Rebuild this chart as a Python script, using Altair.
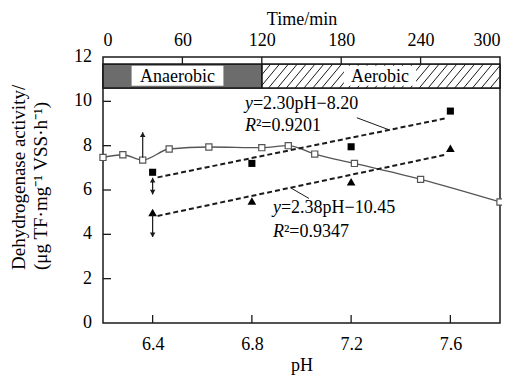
import altair as alt
import pandas as pd
import numpy as np

# ---- data ----
time_min = [0, 15, 30, 50, 80, 120, 140, 160, 190, 240, 300]
time_act = [7.47, 7.59, 7.35, 7.85, 7.94, 7.91, 8.0, 7.62, 7.2, 6.48, 5.46]

ph_vals = [6.4, 6.8, 7.2, 7.6]
sq_act = [6.8, 7.2, 7.95, 9.56]
tri_act = [4.99, 5.5, 6.37, 7.88]

fit_ph = [6.42, 7.58]
fit_sq = [6.57, 9.23]
fit_tri = [4.83, 7.59]

phase_names = ["Anaerobic", "Aerobic"]
phase_start = [0, 120]
phase_end = [120, 300]
phase_fill = ["#6c6c6c", "white"]
label_t1 = [21.6, 182]
label_t2 = [91, 236.6]
label_tc = [56.3, 209.3]
band_low, band_high = 10.6, 11.68

time_ticks = [0, 60, 120, 180, 240, 300]
ph_ticks = [6.4, 6.8, 7.2, 7.6]
y_ticks = [0, 2, 4, 6, 8, 10, 12]

ann_ph = [6.772, 6.772, 6.885, 6.885]
ann_v = [9.88, 8.9, 5.19, 4.10]
ann_italic = ["y", "R", "y", "R"]
ann_rest = ["=2.30pH\u22128.20", "\u00b2=0.9201", "=2.38pH\u221210.45", "\u00b2=0.9347"]
ann_kind = ["y", "R", "y", "R"]

lead_ph1 = [7.223, 6.956]
lead_v1 = [9.26, 6.10]
lead_ph2 = [7.354, 7.03]
lead_v2 = [8.71, 5.62]

# arrows
arrT_t = [30]
arrT_v1 = [7.45]
arrT_v2 = [8.6]
arrT_head_v = [8.5]
arrT_head_shape = ["triangle-up"]

arrP_ph = [6.4, 6.4]
arrP_v1 = [6.55, 4.9]
arrP_v2 = [5.8, 3.88]
arrP_head_ph = [6.4, 6.4, 6.4]
arrP_head_v = [6.45, 5.9, 3.98]
arrP_head_shape = ["triangle-up", "triangle-down", "triangle-down"]

FONT = "Liberation Serif, Times New Roman, serif"
INK = "#1a1a1a"
W, H = 397, 266

# ---- tables ----
ts = pd.DataFrame({"t": time_min, "v": time_act})
pts = pd.DataFrame({"ph": ph_vals, "sq": sq_act, "tri": tri_act})
fits = pd.DataFrame({"ph": fit_ph * 2, "v": fit_sq + fit_tri,
                     "s": ["sq"] * 2 + ["tri"] * 2})
phases = pd.DataFrame({"name": phase_names, "t1": phase_start, "t2": phase_end,
                       "fill": phase_fill, "l1": label_t1, "l2": label_t2,
                       "lc": label_tc, "lo": band_low, "hi": band_high})

# decorative hatch texture for the aerobic band
run, step = 15.0, 6.7
rows = []
for t0 in np.arange(120 - run, 300, step):
    s0 = max(0.0, (120 - t0) / run)
    s1 = min(1.0, (300 - t0) / run)
    if s0 < s1:
        rows.append({"x1": t0 + run * s0, "y1": band_low + (band_high - band_low) * s0,
                     "x2": t0 + run * s1, "y2": band_low + (band_high - band_low) * s1})
hatch = pd.DataFrame(rows)

ann = pd.DataFrame({"ph": ann_ph, "v": ann_v, "it": ann_italic,
                    "rest": ann_rest, "kind": ann_kind})
leads = pd.DataFrame({"p1": lead_ph1, "v1": lead_v1, "p2": lead_ph2, "v2": lead_v2})
arrT = pd.DataFrame({"t": arrT_t, "v1": arrT_v1, "v2": arrT_v2})
arrTh = pd.DataFrame({"t": arrT_t, "v": arrT_head_v, "shape": arrT_head_shape})
arrP = pd.DataFrame({"ph": arrP_ph, "v1": arrP_v1, "v2": arrP_v2})
arrPh = pd.DataFrame({"ph": arrP_head_ph, "v": arrP_head_v, "shape": arrP_head_shape})
ttick = pd.DataFrame({"t": time_ticks[1:-1]})
ptick = pd.DataFrame({"ph": ph_ticks})
ytick = pd.DataFrame({"v": y_ticks[1:-1]})
ylab = pd.DataFrame({"v": y_ticks, "lab": [str(v) for v in y_ticks]})

tscale = alt.Scale(domain=[0, 300], nice=False, zero=False)
pscale = alt.Scale(domain=[6.2, 7.8], nice=False, zero=False)
yscale = alt.Scale(domain=[0, 12], nice=False, zero=False)

def TX(f):
    return alt.X(f, type="quantitative", scale=tscale, axis=None)

def PX(f):
    return alt.X(f, type="quantitative", scale=pscale, axis=None)

def YY(f):
    return alt.Y(f, type="quantitative", scale=yscale, axis=None)

# ---- time-based layers ----
band = alt.Chart(phases).mark_rect(stroke=INK, strokeWidth=1.2).encode(
    x=TX("t1"), x2="t2", y=YY("lo"), y2="hi",
    fill=alt.Fill("fill:N", scale=None))
hatch_l = alt.Chart(hatch).mark_rule(color=INK, strokeWidth=1).encode(
    x=TX("x1"), x2="x2", y=YY("y1"), y2="y2")
band_outline = alt.Chart(phases).mark_rect(fill=None, stroke=INK, strokeWidth=1.2).encode(
    x=TX("t1"), x2="t2", y=YY("lo"), y2="hi")
label_box = alt.Chart(phases).mark_rect(fill="white").encode(
    x=TX("l1"), x2="l2", y=alt.Y(datum=10.7, scale=yscale, axis=None),
    y2=alt.Y2(datum=11.6))
label_txt = alt.Chart(phases).mark_text(font=FONT, fontSize=18, color="black",
                                        baseline="middle").encode(
    x=TX("lc"), y=alt.Y(datum=11.12, scale=yscale, axis=None), text="name:N")
top_ticks = alt.Chart(ttick).mark_rule(color=INK, strokeWidth=1.3).encode(
    x=TX("t"), y=alt.value(0), y2=alt.value(7))

ts_line = alt.Chart(ts).mark_line(color="#555", strokeWidth=1.3,
                                  interpolate="monotone").encode(
    x=alt.X("t:Q", scale=tscale,
            axis=alt.Axis(orient="top", values=time_ticks, title="Time/min",
                          ticks=False, tickSize=0, domain=False, grid=False,
                          labelPadding=8, titlePadding=3, labelFlush=True)),
    y=YY("v"))
ts_pts = alt.Chart(ts).mark_point(shape="square", filled=True, fill="white",
                                  stroke="#555", strokeWidth=1.2, size=38,
                                  opacity=1).encode(x=TX("t"), y=YY("v"))
arrT_rule = alt.Chart(arrT).mark_rule(color=INK, strokeWidth=1.2).encode(
    x=TX("t"), y=YY("v1"), y2="v2")
arrT_head = alt.Chart(arrTh).mark_point(filled=True, color=INK, size=30, opacity=1).encode(
    x=TX("t"), y=YY("v"), shape=alt.Shape("shape:N", scale=None))

# ---- pH-based layers ----
fit_l = alt.Chart(fits).mark_line(color=INK, strokeWidth=2, strokeDash=[5, 3]).encode(
    x=alt.X("ph:Q", scale=pscale,
            axis=alt.Axis(orient="bottom", values=ph_ticks, format=".1f", title="pH",
                          ticks=False, tickSize=0, domain=False, grid=False,
                          labelPadding=12, titlePadding=3)),
    y=YY("v"), detail="s:N")
bottom_ticks = alt.Chart(ptick).mark_rule(color=INK, strokeWidth=1.3).encode(
    x=PX("ph"), y=alt.value(H), y2=alt.value(H - 8))
left_ticks = alt.Chart(ytick).mark_rule(color=INK, strokeWidth=1.3).encode(
    y=YY("v"), x=alt.value(0), x2=alt.value(8))
left_labels = alt.Chart(ylab).mark_text(font=FONT, fontSize=18, color="black",
                                        align="right", baseline="middle").encode(
    y=YY("v"), x=alt.value(-11), text="lab:N")
sq_pts = alt.Chart(pts).mark_point(shape="square", filled=True, color="black",
                                   size=50, opacity=1).encode(x=PX("ph"), y=YY("sq"))
tri_pts = alt.Chart(pts).mark_point(shape="triangle-up", filled=True, color="black",
                                    size=75, opacity=1).encode(x=PX("ph"), y=YY("tri"))
arrP_rule = alt.Chart(arrP).mark_rule(color=INK, strokeWidth=1.2).encode(
    x=PX("ph"), y=YY("v1"), y2="v2")
arrP_head = alt.Chart(arrPh).mark_point(filled=True, color=INK, size=30, opacity=1).encode(
    x=PX("ph"), y=YY("v"), shape=alt.Shape("shape:N", scale=None))
lead_l = alt.Chart(leads).mark_rule(color=INK, strokeWidth=1).encode(
    x=PX("p1"), x2="p2", y=YY("v1"), y2="v2")

ann_it = alt.Chart(ann).mark_text(font=FONT, fontSize=18, fontStyle="italic",
                                  align="left", baseline="middle", color="black").encode(
    x=PX("ph"), y=YY("v"), text="it:N")
ann_rest_y = alt.Chart(ann).transform_filter("datum.kind == 'y'").mark_text(
    font=FONT, fontSize=18, align="left", baseline="middle", color="black", dx=8).encode(
    x=PX("ph"), y=YY("v"), text="rest:N")
ann_rest_r = alt.Chart(ann).transform_filter("datum.kind == 'R'").mark_text(
    font=FONT, fontSize=18, align="left", baseline="middle", color="black", dx=11).encode(
    x=PX("ph"), y=YY("v"), text="rest:N")

ytitle = pd.DataFrame({"line": ["Dehydrogenase activity/",
                                "(\u03bcg TF\u00b7mg\u207b\u00b9 VSS\u00b7h\u207b\u00b9)"],
                       "px": [-84, -62]})
ytitle_l = alt.Chart(ytitle).mark_text(font=FONT, fontSize=19, angle=270, align="left",
                                       baseline="middle", color="black").encode(
    x=alt.X("px:Q", scale=None), y=alt.value(213), text="line:N")

chart = alt.layer(
    band, hatch_l, band_outline, label_box, label_txt, top_ticks,
    ts_line, ts_pts, arrT_rule, arrT_head,
    fit_l, bottom_ticks, left_ticks, left_labels, lead_l, sq_pts, tri_pts,
    arrP_rule, arrP_head, ann_it, ann_rest_y, ann_rest_r, ytitle_l
).resolve_scale(
    x="independent"
).properties(
    width=W, height=H,
    autosize=alt.AutoSizeParams(type="none"),
    padding={"left": 95, "top": 49, "right": 2, "bottom": 56},
).configure_view(
    stroke=INK, strokeWidth=1.5
).configure_axis(
    labelFont=FONT, labelFontSize=18, labelColor="black",
    titleFont=FONT, titleFontSize=18, titleFontWeight="normal", titleColor="black"
)

chart.save("out.html", embed_options={"renderer": "svg", "actions": False})
